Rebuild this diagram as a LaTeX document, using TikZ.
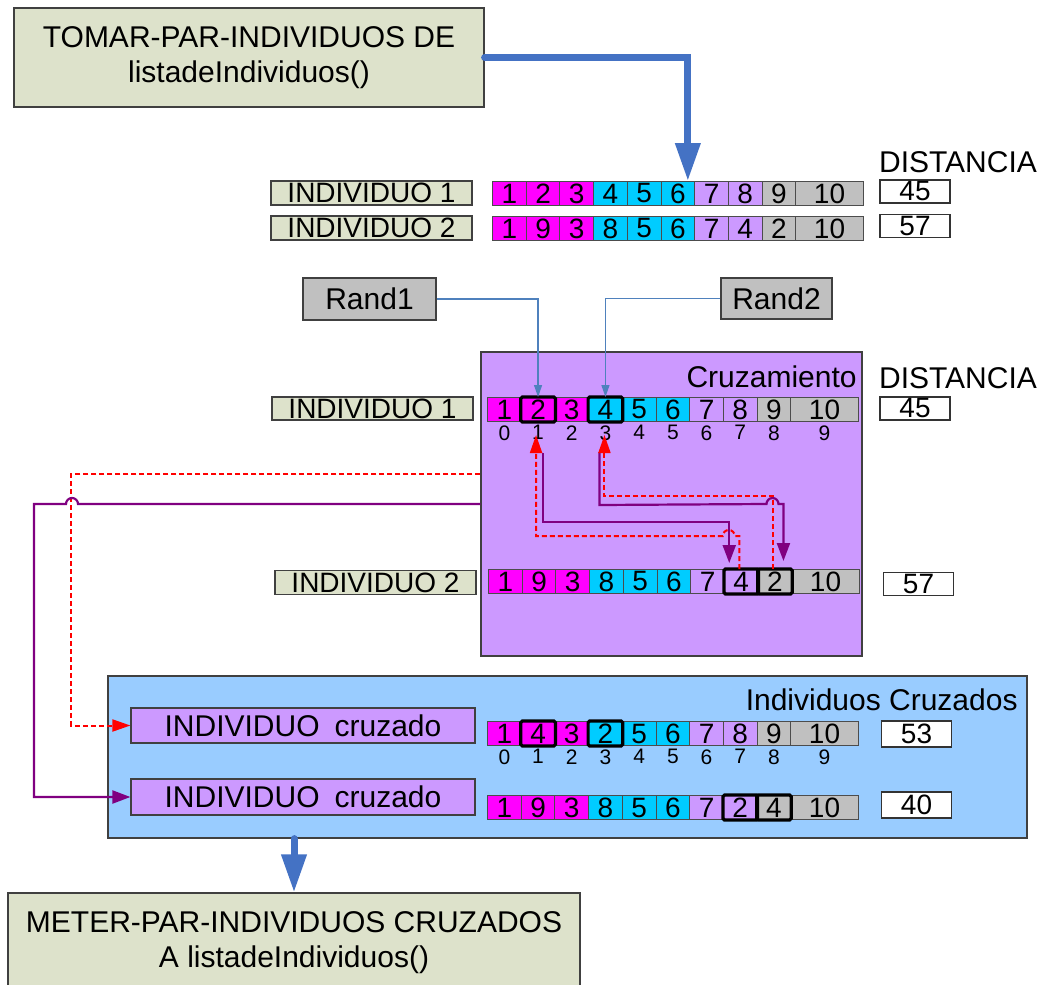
\documentclass[tikz,border=0pt]{standalone}
\usepackage{fontspec}
\setmainfont{Liberation Sans}
\usetikzlibrary{positioning,arrows.meta}

\definecolor{caqui}{RGB}{221,226,203}
\definecolor{gris}{RGB}{192,192,192}
\definecolor{lila}{RGB}{204,153,255}
\definecolor{celeste}{RGB}{153,204,255}
\definecolor{fucsia}{RGB}{255,0,255}
\definecolor{cian}{RGB}{0,204,255}
\definecolor{azul}{RGB}{68,114,196}
\definecolor{azulfino}{RGB}{79,129,189}
\definecolor{morado}{RGB}{128,0,128}

\colorlet{celda0}{fucsia}
\colorlet{celda1}{fucsia}
\colorlet{celda2}{fucsia}
\colorlet{celda3}{cian}
\colorlet{celda4}{cian}
\colorlet{celda5}{cian}
\colorlet{celda6}{lila}
\colorlet{celda7}{lila}
\colorlet{celda8}{gris}
\colorlet{celda9}{gris}

\tikzset{
  caja/.style={draw=black!75, line width=0.6pt, inner sep=0pt, font=\fontsize{15}{17.5}\selectfont},
  etiqueta/.style={caja, fill=caqui, minimum width=100.5pt, minimum height=12pt, font=\fontsize{14}{14}\selectfont},
  celda/.style={draw=black!70, line width=0.5pt, inner sep=0pt, minimum height=12pt, font=\fontsize{14}{14}\selectfont},
  distancia/.style={draw=black!80, fill=white, line width=0.6pt, minimum width=35pt, minimum height=11.5pt, inner sep=0pt, font=\fontsize{14}{14}\selectfont},
  titulo/.style={inner sep=0pt, font=\fontsize{15}{15}\selectfont},
  indice/.style={inner sep=0pt, font=\fontsize{10.5}{10.5}\selectfont},
  marco/.style={line width=1.6pt, rounded corners=0.8pt},
  gruesa/.style={azul, line width=3.5pt, line cap=round, -{Triangle[length=19pt,width=12pt]}},
  fino/.style={azulfino, line width=0.6pt, -{Triangle[length=6pt,width=4pt]}},
  morada/.style={morado, line width=1.1pt, -{Triangle[length=9pt,width=6.5pt]}},
  roja/.style={red, line width=1pt, dash pattern=on 2.5pt off 1.5pt, -{Triangle[length=9pt,width=6pt]}},
}

% fila de genes: prefijo, x, y (esquina superior izquierda), valores
\newcommand{\cromosoma}[4]{%
  \foreach \val [count=\k from 0] in {#4}{%
    \pgfmathsetmacro\ancho{\k==9 ? 33.7 : 16.85}%
    \pgfmathsetmacro\xpos{#2+\k*33.7}%
    \node[celda, fill=celda\k, minimum width=\ancho pt, anchor=north west] (#1-\k) at (\xpos,#3) {\val};
  }}

\begin{document}
\begin{tikzpicture}[x=0.5pt, y=-0.5pt]
  \useasboundingbox (0,0) rectangle (1045,985);

  \node[caja, fill=lila, minimum width=190.5pt, minimum height=152pt] (cruce) at (671.5,504) {};
  \node[caja, fill=celeste, minimum width=459.5pt, minimum height=81pt] (cruzados) at (567.5,757) {};
  \node[titulo, anchor=east] (tcruce) at (857,377) {Cruzamiento};
  \node[titulo, anchor=east] (tcruzados) at (1018,700) {Individuos Cruzados};

  \node[caja, fill=caqui, minimum width=235pt, minimum height=49.5pt, align=center] (tomar) at (249,57.5) {TOMAR-PAR-INDIVIDUOS DE\\listadeIndividuos()};
  \node[caja, fill=caqui, minimum width=286pt, minimum height=49.5pt, align=center] (meter) at (294,942.5) {METER-PAR-INDIVIDUOS CRUZADOS\\A listadeIndividuos()};

  \node[etiqueta] (ind1) at (371.5,193) {INDIVIDUO 1};
  \node[etiqueta] (ind2) at (371.5,228) {INDIVIDUO 2};
  \node[etiqueta, minimum height=11.5pt] (ind3) at (372.5,408.5) {INDIVIDUO 1};
  \node[etiqueta] (ind4) at (375.5,582.5) {INDIVIDUO 2};

  \node[titulo] (dist1) at (958,162) {DISTANCIA};
  \node[titulo] (dist2) at (958,378) {DISTANCIA};

  \node[caja, fill=gris, minimum width=66.5pt, minimum height=21pt] (rand1) at (369.5,299) {Rand1};
  \node[caja, fill=gris, minimum width=55.5pt, minimum height=20.5pt] (rand2) at (776.5,298.5) {Rand2};

  \cromosoma{f1}{492}{181}{1,2,3,4,5,6,7,8,9,10}
  \cromosoma{f2}{492}{216}{1,9,3,8,5,6,7,4,2,10}
  \cromosoma{c1}{487}{397}{1,2,3,4,5,6,7,8,9,10}
  \cromosoma{c2}{488}{569}{1,9,3,8,5,6,7,4,2,10}
  \cromosoma{h1}{487}{721}{1,4,3,2,5,6,7,8,9,10}
  \cromosoma{h2}{487}{795}{1,9,3,8,5,6,7,2,4,10}

  \foreach \k in {0,...,9} {
    \node[indice, below=1.5pt of c1-\k] (i1-\k) {\k};
    \node[indice, below=1.5pt of h1-\k] (i2-\k) {\k};
  }

  \foreach \c in {c1-1,c1-3,c2-7,c2-8,h1-1,h1-3,h2-7,h2-8}
    \draw[marco] (\c.north west) rectangle (\c.south east);

  \node[distancia] (d1) at (915,191.5) {45};
  \node[distancia] (d2) at (915,226) {57};
  \node[distancia] (d3) at (915,408.5) {45};
  \node[distancia] (d4) at (918.5,584) {57};
  \node[distancia, minimum height=13pt] (d5) at (916.5,734) {53};
  \node[distancia, minimum height=13pt] (d6) at (916.5,805) {40};

  \node[caja, fill=lila, minimum width=172pt, minimum height=17.5pt] (hijoA) at (303,725.5) {INDIVIDUO\hspace{0.5em}cruzado};
  \node[caja, fill=lila, minimum width=172pt, minimum height=18pt] (hijoB) at (303,797) {INDIVIDUO\hspace{0.5em}cruzado};

  \draw[gruesa] (tomar.east) -| ([xshift=5pt]f1-5.north);
  \draw[gruesa] (cruzados.south -| meter.north) -- (meter.north);

  \draw[fino] (rand1.east) -| (c1-1.north);
  \draw[fino] (rand2.west) -| (c1-3.north);

  \draw[morada, shorten >=3pt] ([xshift=2.5pt,yshift=-15.5pt]c1-1.south) -- ++(0,69) -| ([xshift=-6pt]c2-7.north);
  \draw[morada, shorten >=4pt] ([xshift=-3pt,yshift=-15pt]c1-3.south) -- ++(0,53) -- (766.5,504) arc[start angle=180, end angle=0, radius=3pt] -| ([xshift=4.25pt]c2-8.north);
  \draw[roja] ([xshift=-1pt]c2-7.north) -- ++(0,-33) -- (734.75,536) arc[start angle=0, end angle=180, radius=3pt] -| ([xshift=-1pt,yshift=-6.5pt]c1-1.south);
  \draw[roja] ([xshift=-1pt]c2-8.north) -- ++(0,-73) -| ([xshift=-0.5pt,yshift=-6.5pt]c1-3.south);

  \draw[roja] ([yshift=15pt]cruce.west) -| ([xshift=-29.5pt]hijoA.west) -- (hijoA.west);
  \draw[morada] (cruce.west) -- (78,504) arc[start angle=0, end angle=180, radius=3pt] -- (34,504) |- (hijoB.west);
\end{tikzpicture}
\end{document}
